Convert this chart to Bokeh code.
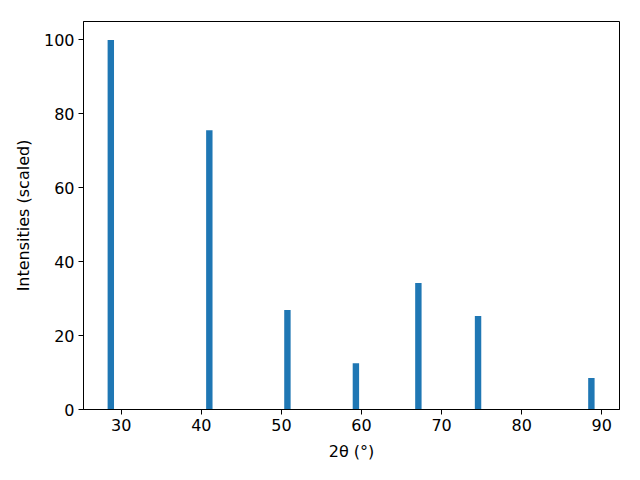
from bokeh.plotting import figure
from bokeh.models import FixedTicker, Range1d
from bokeh.embed import file_html
from bokeh.resources import INLINE

two_theta = [28.7, 41.0, 50.75, 59.3, 67.1, 74.55, 88.7]
intensity = [100.0, 75.6, 26.9, 12.5, 34.2, 25.3, 8.5]
x_ticks = [30, 40, 50, 60, 70, 80, 90]
y_ticks = [0, 20, 40, 60, 80, 100]

p = figure(width=640, height=480, output_backend="svg", toolbar_location=None,
           frame_width=536, frame_height=388,
           min_border_left=83, min_border_right=21, min_border_top=21, min_border_bottom=71,
           x_range=Range1d(25.29, 92.21), y_range=Range1d(0, 105))

p.vbar(x=two_theta, top=intensity, width=0.8, bottom=0, color="#1f77b4", line_width=0)

p.xgrid.visible = False
p.ygrid.visible = False
p.outline_line_color = "black"
p.outline_line_width = 1
p.outline_line_alpha = 1

p.xaxis.ticker = FixedTicker(ticks=x_ticks)
p.yaxis.ticker = FixedTicker(ticks=y_ticks)
p.xaxis.axis_label = "2θ (°)"
p.yaxis.axis_label = "Intensities (scaled)"

for ax in (p.xaxis[0], p.yaxis[0]):
    ax.major_label_text_font = "DejaVu Sans"
    ax.major_label_text_font_size = "16px"
    ax.major_label_text_color = "black"
    ax.axis_label_text_font = "DejaVu Sans"
    ax.axis_label_text_font_size = "16px"
    ax.axis_label_text_font_style = "normal"
    ax.axis_label_text_color = "black"
    ax.major_tick_in = 0
    ax.major_tick_out = 5
    ax.minor_tick_in = 0
    ax.minor_tick_out = 0
    ax.axis_line_color = "black"
    ax.major_tick_line_color = "black"
    ax.major_label_standoff = 4
    ax.axis_label_standoff = 8

p.background_fill_color = "white"
p.border_fill_color = "white"

open("out.html", "w").write(file_html(p, INLINE))
